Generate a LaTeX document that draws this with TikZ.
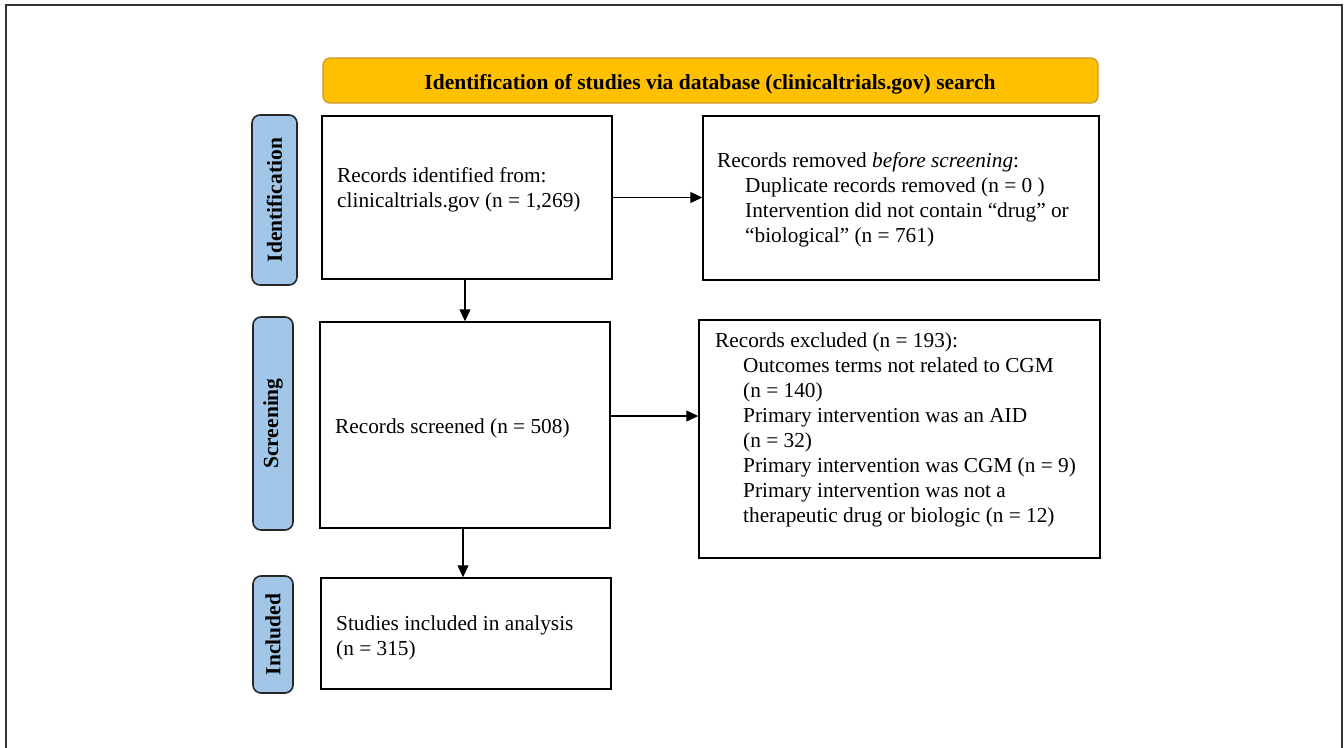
\documentclass[tikz,border=0pt]{standalone}
\usepackage{fontspec}
\setmainfont{Liberation Serif}
\usetikzlibrary{arrows.meta,calc}
\definecolor{bannerfill}{HTML}{FFC000}
\definecolor{bannerdraw}{HTML}{C8962A}
\definecolor{labfill}{HTML}{A2C6E8}
\definecolor{framecol}{HTML}{333333}
\tikzset{
  box/.style={draw=black, line width=1.4pt, fill=white, inner sep=0pt},
  phase/.style={draw=black!85, line width=1.6pt, fill=labfill, rounded corners=8pt, inner sep=0pt},
  phasetext/.style={rotate=90, font=\fontsize{21.5}{25}\selectfont\bfseries},
  bodytext/.style={anchor=base west, inner sep=0pt, font=\fontsize{21.3}{25}\selectfont},
  arr/.style={line width=1.2pt, -{Triangle[length=12pt,width=11pt]}},
}
\begin{document}
\begin{tikzpicture}[x=1pt,y=-1pt]
\useasboundingbox (0,0) rectangle (1344,747);
% outer frame
\draw[framecol, line width=1.5pt] (6,750) -- (6,5) -- (1342,5) -- (1342,750);
% banner
\node[draw=bannerdraw, line width=1.2pt, fill=bannerfill, rounded corners=7pt,
  minimum width=775pt, minimum height=45pt, inner sep=0pt] (ban) at (710.5,80.5) {};
\node[anchor=base, inner sep=0pt, font=\fontsize{21.5}{25}\selectfont\bfseries] (bant) at (710,89)
  {Identification of studies via database (clinicaltrials.gov) search};
% phase labels
\node[phase, minimum width=45pt, minimum height=170pt] (pid) at (274.5,200) {};
\node[phasetext] (pidt) at (pid.center) {Identification};
\node[phase, minimum width=40pt, minimum height=213pt] (psc) at (273,423.5) {};
\node[phasetext] (psct) at (psc.center) {Screening};
\node[phase, minimum width=40pt, minimum height=117pt] (pin) at (273,634.5) {};
\node[phasetext] (pint) at (pin.center) {Included};
% boxes
\node[box, minimum width=290pt, minimum height=163pt] (b1) at (467,197.5) {};
\node[box, minimum width=396pt, minimum height=164pt] (b2) at (901,198) {};
\node[box, minimum width=290pt, minimum height=206pt] (b3) at (465,425) {};
\node[box, minimum width=401pt, minimum height=238pt] (b4) at (899.5,439) {};
\node[box, minimum width=290pt, minimum height=111pt] (b5) at (466,633.5) {};
% texts
\node[bodytext] (t1) at (337,182) {\begin{tabular}[t]{@{}l@{}}Records identified from:\\clinicaltrials.gov (n = 1,269)\end{tabular}};
\node[bodytext] (t2) at (717,167) {\begin{tabular}[t]{@{}l@{}}Records removed \textit{before screening}:\\
\hspace*{28pt}Duplicate records removed (n = 0 )\\
\hspace*{28pt}Intervention did not contain “drug” or\\
\hspace*{28pt}“biological” (n = 761)\end{tabular}};
\node[bodytext] (t3) at (335,433) {Records screened (n = 508)};
\node[bodytext] (t4) at (715,347) {\begin{tabular}[t]{@{}l@{}}Records excluded (n = 193):\\
\hspace*{28pt}Outcomes terms not related to CGM\\
\hspace*{28pt}(n = 140)\\
\hspace*{28pt}Primary intervention was an AID\\
\hspace*{28pt}(n = 32)\\
\hspace*{28pt}Primary intervention was CGM (n = 9)\\
\hspace*{28pt}Primary intervention was not a\\
\hspace*{28pt}therapeutic drug or biologic (n = 12)\end{tabular}};
\node[bodytext] (t5) at (336,630) {\begin{tabular}[t]{@{}l@{}}Studies included in analysis\\(n = 315)\end{tabular}};
% arrows
\draw[arr] (b1.east) -- (b1.east -| b2.west);
\draw[arr] (b1.south -| b3.north) -- (b3.north);
\draw[arr] ([yshift=9pt]b3.east) -- ([yshift=9pt]b3.east -| b4.west);
\draw[arr] ([xshift=-2pt]b3.south) -- ([xshift=-2pt]b3.south |- b5.north);
\end{tikzpicture}
\end{document}
